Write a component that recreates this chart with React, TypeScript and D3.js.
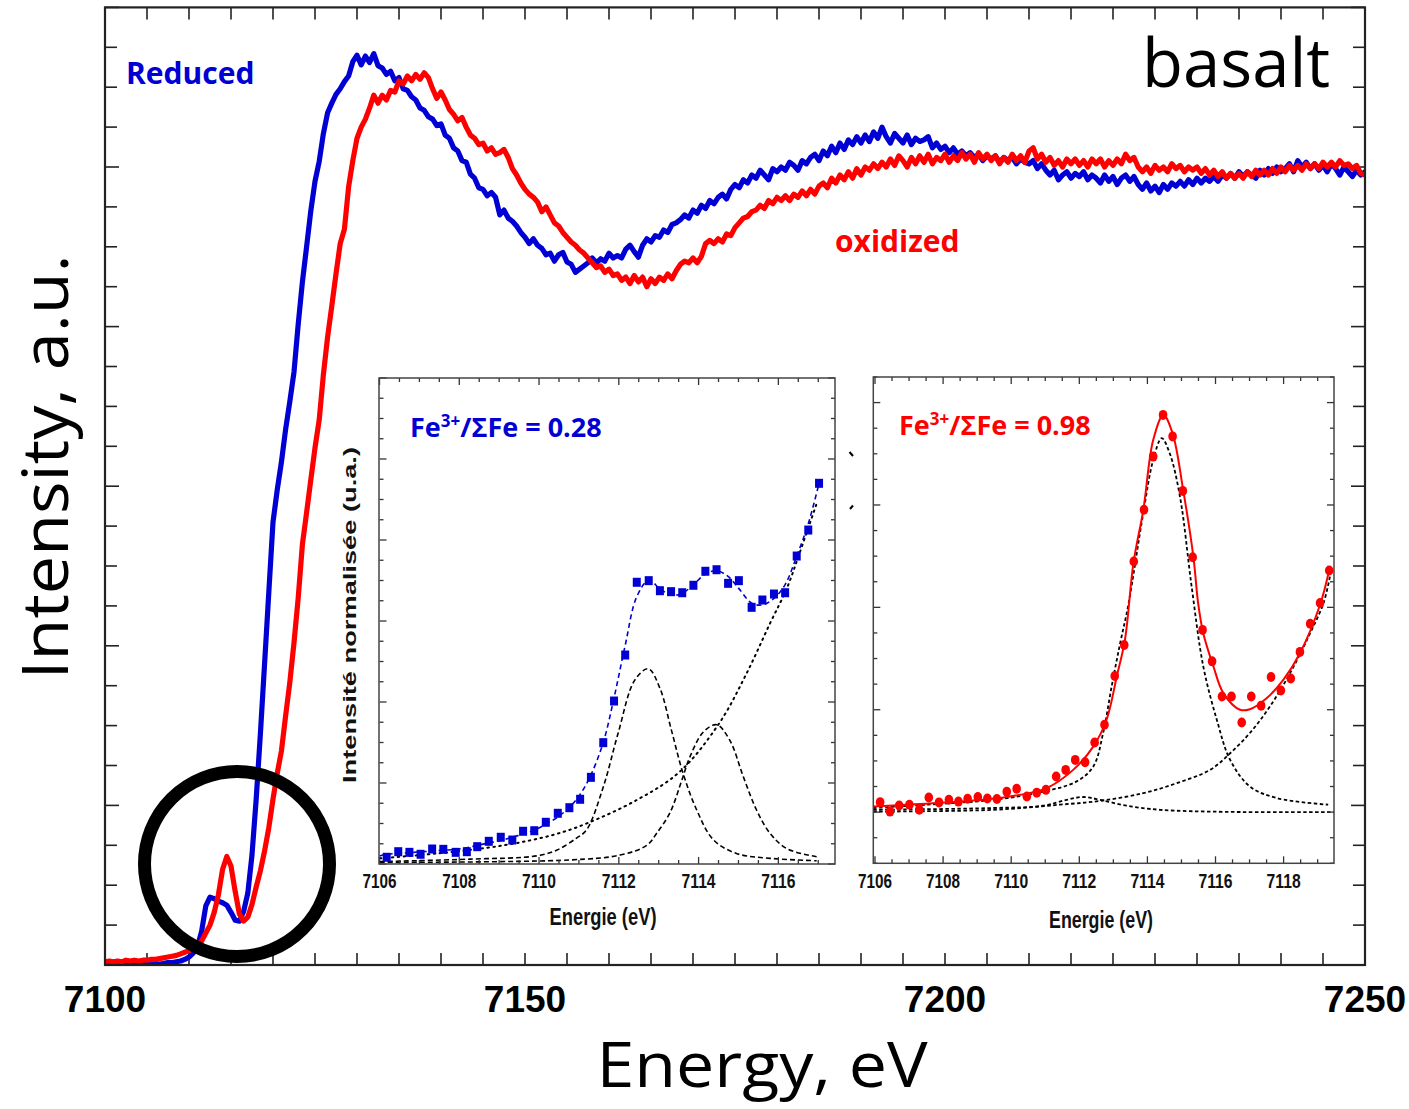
import React from 'react';
import * as d3 from 'd3';

// ---------- main spectra (normalized intensity on a 0.5 eV grid from 7100 eV) ----------
const energyStart = 7100;
const energyStep = 0.5;

const reducedValues = [
  0.000,0.001,0.000,0.001,0.000,0.001,0.000,0.001,0.001,0.002,
  0.001,0.002,0.002,0.001,0.002,0.003,0.003,0.004,0.005,0.007,
  0.010,0.015,0.023,0.042,0.074,0.085,0.083,0.080,0.078,0.075,
  0.066,0.056,0.055,0.067,0.090,0.138,0.208,0.290,0.378,0.467,
  0.555,0.595,0.630,0.671,0.706,0.743,0.803,0.856,0.900,0.945,
  0.982,1.007,1.042,1.068,1.080,1.091,1.098,1.107,1.114,1.132,
  1.140,1.128,1.139,1.131,1.142,1.127,1.124,1.116,1.120,1.108,
  1.112,1.098,1.096,1.088,1.084,1.074,1.071,1.063,1.060,1.052,
  1.054,1.040,1.036,1.024,1.020,1.008,1.006,0.991,0.986,0.974,
  0.972,0.964,0.968,0.962,0.940,0.946,0.936,0.932,0.926,0.918,
  0.912,0.904,0.910,0.902,0.898,0.890,0.892,0.882,0.890,0.893,
  0.881,0.878,0.868,0.872,0.876,0.880,0.886,0.880,0.885,0.882,
  0.892,0.886,0.889,0.886,0.897,0.902,0.894,0.887,0.902,0.910,
  0.906,0.914,0.912,0.921,0.918,0.928,0.930,0.934,0.940,0.936,
  0.946,0.942,0.952,0.948,0.958,0.954,0.962,0.966,0.960,0.972,
  0.978,0.974,0.984,0.980,0.990,0.986,0.996,0.990,0.984,0.998,
  0.994,1.000,0.996,1.006,1.002,0.996,1.008,1.004,1.012,1.016,
  1.008,1.020,1.014,1.026,1.018,1.030,1.022,1.034,1.028,1.038,
  1.030,1.040,1.032,1.044,1.036,1.050,1.038,1.030,1.042,1.036,
  1.030,1.040,1.028,1.036,1.032,1.034,1.038,1.024,1.030,1.022,
  1.026,1.018,1.024,1.016,1.020,1.014,1.018,1.012,1.016,1.008,
  1.014,1.010,1.014,1.006,1.012,1.008,1.012,1.004,1.010,1.006,
  1.004,1.008,0.998,1.004,0.996,0.990,0.996,0.984,0.990,0.994,
  0.986,0.992,0.988,0.994,0.984,0.990,0.986,0.980,0.990,0.982,
  0.988,0.978,0.986,0.990,0.982,0.988,0.978,0.972,0.980,0.970,
  0.976,0.968,0.978,0.972,0.980,0.976,0.982,0.976,0.984,0.978,
  0.986,0.980,0.986,0.982,0.988,0.982,0.990,0.986,0.992,0.986,
  0.994,0.988,0.994,0.990,0.986,0.996,0.990,0.998,0.992,1.000,
  0.994,0.998,1.004,0.994,1.008,1.000,1.006,0.998,1.004,0.996,
  1.002,0.994,1.004,0.998,0.990,1.000,0.994,0.988,0.996,0.990,
  0.994,
];

const oxidizedValues = [
  0.004,0.005,0.004,0.005,0.004,0.006,0.005,0.006,0.005,0.006,
  0.006,0.007,0.007,0.008,0.009,0.010,0.011,0.012,0.014,0.016,
  0.018,0.021,0.025,0.030,0.040,0.050,0.066,0.088,0.120,0.136,
  0.124,0.092,0.064,0.055,0.060,0.076,0.098,0.118,0.143,0.172,
  0.208,0.240,0.268,0.312,0.354,0.404,0.460,0.527,0.567,0.608,
  0.648,0.683,0.740,0.787,0.826,0.866,0.904,0.922,0.975,1.008,
  1.036,1.050,1.060,1.074,1.090,1.080,1.090,1.084,1.096,1.094,
  1.108,1.104,1.114,1.108,1.116,1.110,1.118,1.112,1.098,1.086,
  1.094,1.084,1.072,1.066,1.058,1.062,1.050,1.040,1.036,1.028,
  1.030,1.020,1.024,1.016,1.018,1.022,1.012,0.998,0.990,0.980,
  0.972,0.966,0.962,0.956,0.944,0.950,0.940,0.930,0.926,0.918,
  0.912,0.906,0.902,0.896,0.892,0.886,0.880,0.874,0.876,0.868,
  0.872,0.864,0.866,0.858,0.862,0.854,0.864,0.856,0.862,0.850,
  0.860,0.854,0.862,0.858,0.866,0.860,0.870,0.878,0.882,0.880,
  0.886,0.880,0.888,0.904,0.908,0.904,0.910,0.906,0.916,0.914,
  0.924,0.930,0.936,0.938,0.944,0.946,0.952,0.948,0.958,0.954,
  0.962,0.958,0.964,0.958,0.966,0.962,0.970,0.964,0.972,0.966,
  0.976,0.980,0.974,0.986,0.980,0.990,0.984,0.994,0.986,0.998,
  0.990,1.000,0.996,1.004,0.998,1.006,1.000,1.010,1.002,1.014,
  1.008,1.000,1.012,1.004,1.014,1.006,1.016,1.004,1.012,1.008,
  1.016,1.006,1.014,1.008,1.018,1.010,1.016,1.006,1.018,1.010,
  1.016,1.008,1.014,1.004,1.012,1.006,1.016,1.008,1.014,1.006,
  1.020,1.024,1.010,1.016,1.006,1.012,1.002,1.008,1.000,1.010,
  1.004,1.010,1.002,1.008,1.000,1.010,1.004,1.010,1.000,1.008,
  1.002,1.010,1.004,1.016,1.008,1.012,1.000,0.994,1.000,0.992,
  1.002,0.996,1.000,0.994,1.004,0.998,1.002,0.994,1.000,0.996,
  1.000,0.992,0.998,0.990,0.996,0.988,0.994,0.986,0.992,0.986,
  0.992,0.986,0.994,0.988,0.996,0.990,0.996,0.990,0.998,0.992,
  1.000,0.994,1.002,0.996,1.002,0.996,1.004,0.998,1.004,0.998,
  1.006,1.000,1.006,1.000,1.008,1.002,1.004,0.998,1.002,0.992,
  0.990,
];

const mainXTickLabels = [7100, 7150, 7200, 7250];

// ---------- inset 1 : reduced pre-edge ----------
const inset1DataE = [7106.18,7106.47,7106.75,7107.03,7107.32,7107.60,7107.91,7108.19,7108.45,7108.74,7109.04,7109.33,7109.60,7109.88,7110.17,7110.47,7110.76,7111.03,7111.30,7111.61,7111.88,7112.16,7112.45,7112.75,7113.03,7113.31,7113.59,7113.87,7114.17,7114.45,7114.74,7115.01,7115.33,7115.60,7115.89,7116.17,7116.46,7116.75,7117.02];
const inset1DataV = [0.083,0.152,0.144,0.120,0.185,0.181,0.144,0.152,0.214,0.280,0.330,0.296,0.404,0.411,0.515,0.626,0.695,0.799,1.070,1.498,2.012,2.580,3.478,3.498,3.374,3.362,3.349,3.441,3.614,3.633,3.465,3.498,3.169,3.259,3.333,3.349,3.802,4.123,4.700];
const inset1FitE = [7106.00,7106.18,7106.47,7106.75,7107.03,7107.32,7107.60,7107.91,7108.19,7108.45,7108.74,7109.04,7109.33,7109.60,7109.88,7110.17,7110.47,7110.76,7111.03,7111.30,7111.61,7111.88,7112.16,7112.45,7112.75,7113.03,7113.31,7113.59,7113.87,7114.17,7114.45,7114.74,7115.01,7115.33,7115.60,7115.89,7116.17,7116.46,7116.75,7117.02];
const inset1FitV = [0.10,0.12,0.13,0.14,0.15,0.16,0.17,0.18,0.20,0.23,0.26,0.29,0.33,0.37,0.42,0.49,0.58,0.70,0.86,1.10,1.50,2.05,2.70,3.30,3.50,3.40,3.32,3.34,3.45,3.58,3.62,3.55,3.40,3.22,3.20,3.28,3.45,3.80,4.20,4.70];
const inset1Peak1 = [[7106.01,0.03],[7108.27,0.06],[7109.94,0.10],[7110.44,0.17],[7110.94,0.32],[7111.19,0.42],[7111.61,0.95],[7111.98,1.61],[7112.40,2.27],[7112.74,2.41],[7113.03,2.17],[7113.32,1.65],[7113.61,1.12],[7113.95,0.67],[7114.37,0.30],[7114.95,0.13],[7115.79,0.07],[7116.96,0.04]];
const inset1Peak2 = [[7106.01,0.02],[7110.77,0.05],[7112.03,0.11],[7112.70,0.23],[7112.95,0.38],[7113.28,0.63],[7113.57,1.02],[7113.78,1.32],[7114.12,1.63],[7114.45,1.72],[7114.78,1.53],[7115.12,1.08],[7115.45,0.67],[7115.79,0.38],[7116.21,0.19],[7116.96,0.09]];
const inset1Step = [[7106.01,0.07],[7107.43,0.13],[7109.10,0.23],[7110.36,0.36],[7111.19,0.50],[7112.45,0.79],[7113.53,1.14],[7114.52,1.74],[7115.20,2.35],[7115.79,2.97],[7116.21,3.40],[7116.54,3.85],[7116.96,4.45]];
const inset1TickLabels = [7106, 7108, 7110, 7112, 7114, 7116];

// ---------- inset 2 : oxidized pre-edge ----------
const inset2DataE = [7106.15,7106.44,7106.71,7107.01,7107.30,7107.58,7107.88,7108.17,7108.45,7108.72,7109.02,7109.30,7109.58,7109.87,7110.16,7110.46,7110.75,7111.02,7111.32,7111.60,7111.88,7112.17,7112.45,7112.74,7113.04,7113.32,7113.60,7113.90,7114.17,7114.46,7114.74,7115.04,7115.33,7115.62,7115.90,7116.19,7116.47,7116.77,7117.05,7117.34,7117.63,7117.92,7118.21,7118.48,7118.78,7119.07,7119.34];
const inset2DataV = [0.39,0.02,0.26,0.29,0.09,0.57,0.38,0.48,0.41,0.52,0.59,0.53,0.51,0.80,0.91,0.61,0.76,0.87,1.39,1.65,2.04,1.95,2.72,3.41,5.32,6.53,9.79,11.81,13.89,15.52,14.68,12.55,9.96,7.12,5.89,4.52,4.52,3.50,4.52,4.16,5.28,4.75,5.22,6.26,7.36,8.17,9.44];
const inset2Fit = [[7105.95,0.22],[7108.50,0.41],[7109.96,0.61],[7111.04,0.94],[7111.82,1.65],[7112.41,2.56],[7112.80,3.61],[7113.10,5.30],[7113.34,6.73],[7113.59,9.73],[7113.88,11.81],[7114.17,14.54],[7114.47,15.52],[7114.74,14.80],[7115.05,12.59],[7115.35,9.98],[7115.49,8.16],[7115.64,6.99],[7115.94,5.69],[7116.23,4.65],[7116.72,4.00],[7117.01,4.02],[7117.50,4.45],[7117.99,5.17],[7118.48,6.21],[7119.07,8.10],[7119.34,9.46]];
const inset2MainPeak = [[7105.95,0.16],[7107.52,0.29],[7109.47,0.48],[7110.94,0.80],[7111.92,1.20],[7112.41,1.78],[7112.70,3.09],[7112.95,4.91],[7113.20,6.60],[7113.44,8.10],[7113.88,11.70],[7114.17,13.76],[7114.42,14.61],[7114.66,14.00],[7114.96,12.30],[7115.30,8.80],[7115.64,5.70],[7116.04,3.60],[7116.43,2.04],[7117.01,1.00],[7117.80,0.55],[7119.31,0.29]];
const inset2SmallPeak = [[7105.95,0.09],[7109.47,0.16],[7110.94,0.25],[7111.63,0.48],[7112.12,0.59],[7112.61,0.48],[7113.39,0.25],[7114.37,0.09],[7116.33,0.01],[7119.48,0.00]];
const inset2Step = [[7105.95,0.02],[7109.47,0.09],[7111.43,0.29],[7112.61,0.44],[7113.88,0.74],[7114.86,1.13],[7115.84,1.65],[7116.43,2.30],[7117.01,3.09],[7117.60,4.13],[7118.19,5.43],[7118.78,6.99],[7119.17,8.16],[7119.36,9.20]];
const inset2TickLabels = [7106, 7108, 7110, 7112, 7114, 7116, 7118];

const BLUE = '#0000d4';
const RED = '#ff0000';
const CAL = "'Open Sans', 'Noto Sans', sans-serif";
const ARIAL = "'Liberation Sans', Arial, sans-serif";

type P = [number, number];

function InsetTicks({ xs, ys, xTicks, yTicks, xMajor, yMajor }: any) {
  const [x0, x1] = xs.range();
  const [y0, y1] = ys.range(); // y0 bottom, y1 top
  const out: any[] = [];
  xTicks.forEach((t: number, i: number) => {
    const L = xMajor(t) ? 7 : 4;
    const px = xs(t);
    out.push(<line key={'xb' + i} x1={px} x2={px} y1={y0} y2={y0 - L} />);
    out.push(<line key={'xt' + i} x1={px} x2={px} y1={y1} y2={y1 + L} />);
  });
  yTicks.forEach((t: number, i: number) => {
    const L = yMajor(t) ? 7 : 4;
    const py = ys(t);
    out.push(<line key={'yl' + i} x1={x0} x2={x0 + L} y1={py} y2={py} />);
    out.push(<line key={'yr' + i} x1={x1} x2={x1 - L} y1={py} y2={py} />);
  });
  return <g stroke="#333" strokeWidth={1.3}>{out}</g>;
}

export default function App() {
  const W = 1409, H = 1109;
  const x = d3.scaleLinear().domain([7100, 7250]).range([105, 1365]);
  const y = d3.scaleLinear().domain([0, 1.2]).range([965, 7.4]);
  const mainLine = d3.line<P>().x(d => x(d[0])).y(d => y(d[1]));

  const energyGrid = reducedValues.map((_, i) => energyStart + i * energyStep);
  const reduced: P[] = energyGrid.map((e, i) => [e, reducedValues[i]]);
  const oxidized: P[] = energyGrid.map((e, i) => [e, oxidizedValues[i]]);

  const xMinor = d3.range(7100, 7250.01, 5);
  const yMinor = d3.range(0, 1.2001, 0.05);

  // inset 1 scales
  const x1 = d3.scaleLinear().domain([7106, 7117.42]).range([379.5, 835]);
  const y1 = d3.scaleLinear().domain([0, 6]).range([864, 378]);
  const l1smooth = d3.line<P>().x(d => x1(d[0])).y(d => y1(d[1])).curve(d3.curveCatmullRom);
  const fit1: P[] = inset1FitE.map((e, i) => [e, inset1FitV[i]]);

  // inset 2 scales
  const x2 = d3.scaleLinear().domain([7105.95, 7119.48]).range([873.3, 1334]);
  const y2 = d3.scaleLinear().domain([-2, 17]).range([863.3, 377]);
  const l2 = d3.line<P>().x(d => x2(d[0])).y(d => y2(d[1])).curve(d3.curveCatmullRom);

  const tickLen = 12;

  return (
    <svg width={W} height={H} viewBox={`0 0 ${W} ${H}`} style={{ position: 'absolute', left: 0, top: 0, background: '#fff' }}>
      <defs>
        <clipPath id="clipMain"><rect x={105} y={7} width={1260} height={958} /></clipPath>
        <clipPath id="clip1"><rect x={379} y={378} width={456} height={486} /></clipPath>
        <clipPath id="clip2"><rect x={873.3} y={377} width={460.7} height={486.3} /></clipPath>
      </defs>
      <rect x={0} y={0} width={W} height={H} fill="#fff" />

      {/* main ticks */}
      <g stroke="#222" strokeWidth={1.6}>
        {xMinor.map((t, i) => (
          <g key={'mx' + i}>
            <line x1={x(t)} x2={x(t)} y1={965} y2={965 - tickLen} />
            <line x1={x(t)} x2={x(t)} y1={7.4} y2={7.4 + tickLen} />
          </g>
        ))}
        {yMinor.map((t, i) => {
          const L = Math.abs(t / 0.2 - Math.round(t / 0.2)) < 1e-6 ? 14 : tickLen;
          return (
            <g key={'my' + i}>
              <line x1={105} x2={105 + L} y1={y(t)} y2={y(t)} />
              <line x1={1365} x2={1365 - L} y1={y(t)} y2={y(t)} />
            </g>
          );
        })}
      </g>

      {/* main curves */}
      <g clipPath="url(#clipMain)" fill="none" strokeWidth={5.2} strokeLinejoin="round" strokeLinecap="round">
        <path d={mainLine(reduced) || ''} stroke={BLUE} />
        <path d={mainLine(oxidized) || ''} stroke={RED} />
      </g>

      {/* main frame */}
      <rect x={105} y={7.4} width={1260} height={957.6} fill="none" stroke="#222" strokeWidth={2.2} />

      {/* circle highlighting pre-edge */}
      <circle cx={237} cy={864} r={92.5} fill="none" stroke="#000" strokeWidth={13} />

      {/* main tick labels */}
      <g fontFamily={ARIAL} fontWeight="bold" fontSize={37} textAnchor="middle" fill="#000">
        {mainXTickLabels.map(t => (
          <text key={t} x={x(t)} y={1012}>{t}</text>
        ))}
      </g>

      {/* axis titles */}
      <text x={762} y={1087} textAnchor="middle" fontFamily={CAL} fontSize={62} fill="#000" textLength={331} lengthAdjust="spacingAndGlyphs">Energy, eV</text>
      <text transform="translate(68,467) rotate(-90)" textAnchor="middle" fontFamily={CAL} fontSize={64} fill="#000" textLength={425} lengthAdjust="spacingAndGlyphs">Intensity, a.u.</text>

      {/* annotations */}
      <text x={126} y={84} fontFamily={CAL} fontWeight="bold" fontSize={30} fill={BLUE}>Reduced</text>
      <text x={835} y={252} fontFamily={CAL} fontWeight="bold" fontSize={30} fill={RED}>oxidized</text>
      <text x={1142} y={87} fontFamily={CAL} fontSize={67} fill="#000">basalt</text>

      {/* small stray marks */}
      <g stroke="#000" strokeWidth={2}>
        <line x1={849.5} y1={452} x2={853} y2={456} />
        <line x1={850} y1={509} x2={853} y2={505.5} />
      </g>

      {/* ---------------- inset 1 ---------------- */}
      <rect x={379} y={378} width={456} height={486} fill="#fff" />
      <g clipPath="url(#clip1)" fill="none">
        <path d={l1smooth(inset1Peak1 as P[]) || ''} stroke="#000" strokeWidth={1.6} strokeDasharray="5,3" />
        <path d={l1smooth(inset1Peak2 as P[]) || ''} stroke="#000" strokeWidth={1.6} strokeDasharray="5,3" />
        <path d={l1smooth(inset1Step as P[]) || ''} stroke="#000" strokeWidth={2} strokeDasharray="1.5,4.5" strokeLinecap="round" />
        <path d={l1smooth(fit1) || ''} stroke={BLUE} strokeWidth={1.6} strokeDasharray="5,3.5" />
        {inset1DataE.map((e, i) => (
          <rect key={'s' + i} x={x1(e) - 4} y={y1(inset1DataV[i]) - 4.5} width={8} height={9} fill={BLUE} />
        ))}
      </g>
      <InsetTicks xs={x1} ys={y1} xTicks={d3.range(7106, 7117.01, 0.5)} yTicks={d3.range(0, 6.001, 0.25)}
        xMajor={(t: number) => Math.abs(t % 2) < 1e-6} yMajor={(t: number) => Math.abs(t - Math.round(t)) < 1e-6} />
      <rect x={379} y={378} width={456} height={486} fill="none" stroke="#444" strokeWidth={1.5} />
      <g fontFamily={ARIAL} fontWeight="bold" fontSize={21} textAnchor="middle" fill="#111">
        {inset1TickLabels.map(t => (
          <text key={t} x={x1(t)} y={888} textLength={34} lengthAdjust="spacingAndGlyphs">{t}</text>
        ))}
        <text x={603} y={925} fontSize={23} textLength={107} lengthAdjust="spacingAndGlyphs">Energie (eV)</text>
      </g>
      <text transform="translate(356,615) rotate(-90)" textAnchor="middle" fontFamily={ARIAL} fontWeight="bold" fontSize={18} fill="#111" textLength={336} lengthAdjust="spacingAndGlyphs">Intensité normalisée (u.a.)</text>
      <text x={410} y={437} fontFamily={CAL} fontWeight="bold" fontSize={27} fill={BLUE}>
        Fe<tspan fontSize={17} dy={-10}>3+</tspan><tspan dy={10}>/ΣFe = 0.28</tspan>
      </text>

      {/* ---------------- inset 2 ---------------- */}
      <rect x={873.3} y={377} width={460.7} height={486.3} fill="#fff" />
      <g clipPath="url(#clip2)" fill="none">
        <path d={l2(inset2SmallPeak as P[]) || ''} stroke="#000" strokeWidth={1.8} strokeDasharray="3.5,2.5" />
        <path d={l2(inset2Step as P[]) || ''} stroke="#000" strokeWidth={1.8} strokeDasharray="3.5,2.5" />
        <path d={l2(inset2MainPeak as P[]) || ''} stroke="#000" strokeWidth={1.8} strokeDasharray="3.5,2.5" />
        <path d={l2(inset2Fit as P[]) || ''} stroke={RED} strokeWidth={2} />
        {inset2DataE.map((e, i) => (
          <ellipse key={'c' + i} cx={x2(e)} cy={y2(inset2DataV[i])} rx={4.3} ry={5} fill={RED} />
        ))}
      </g>
      <InsetTicks xs={x2} ys={y2} xTicks={d3.range(7106, 7119.01, 0.5)} yTicks={d3.range(-2, 17.001, 1)}
        xMajor={(t: number) => Math.abs(t % 2) < 1e-6} yMajor={(t: number) => Math.abs(t % 4) < 1e-6} />
      <rect x={873.3} y={377} width={460.7} height={486.3} fill="none" stroke="#444" strokeWidth={1.5} />
      <g fontFamily={ARIAL} fontWeight="bold" fontSize={21} textAnchor="middle" fill="#111">
        {inset2TickLabels.map(t => (
          <text key={t} x={x2(t)} y={888} textLength={34} lengthAdjust="spacingAndGlyphs">{t}</text>
        ))}
        <text x={1101} y={928} fontSize={23} textLength={104} lengthAdjust="spacingAndGlyphs">Energie (eV)</text>
      </g>
      <text x={899} y={435} fontFamily={CAL} fontWeight="bold" fontSize={27} fill={RED}>
        Fe<tspan fontSize={17} dy={-10}>3+</tspan><tspan dy={10}>/ΣFe = 0.98</tspan>
      </text>
    </svg>
  );
}
